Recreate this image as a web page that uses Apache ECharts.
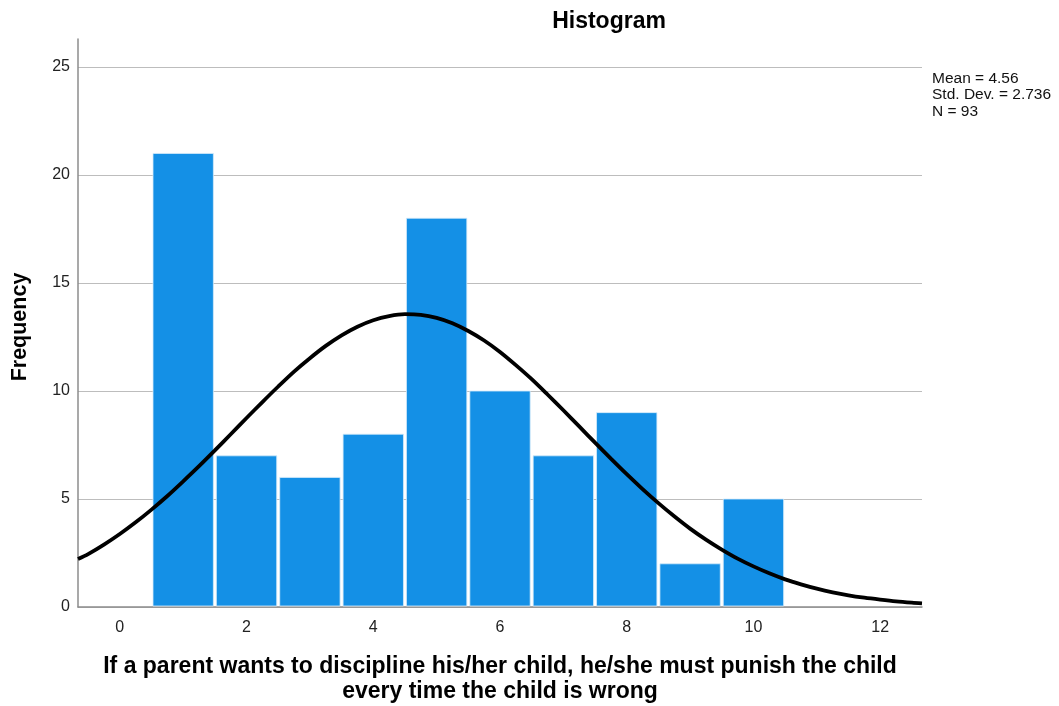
<!DOCTYPE html>
<html>
<head>
<meta charset="utf-8">
<script src="https://cdn.jsdelivr.net/npm/echarts@6/dist/echarts.min.js"></script>
<style>html,body{margin:0;padding:0;background:#fff;}#c{width:1059px;height:706px;}</style>
</head>
<body>
<div id="c"></div>
<script>
// Histogram bins (centre value) and frequencies
const binCenters = [1, 2, 3, 4, 5, 6, 7, 8, 9, 10];
const frequencies = [21, 7, 6, 8, 18, 10, 7, 9, 2, 5];
// Normal curve points (x, y)
const curveX = [-0.66, -0.5, -0.25, 0, 0.25, 0.5, 0.75, 1, 1.25, 1.5, 1.75, 2, 2.25, 2.5, 2.75, 3, 3.25, 3.5, 3.75, 4, 4.25, 4.5, 4.75, 5, 5.25, 5.5, 5.75, 6, 6.25, 6.5, 6.75, 7, 7.25, 7.5, 7.75, 8, 8.25, 8.5, 8.75, 9, 9.25, 9.5, 9.75, 10, 10.25, 10.5, 10.75, 11, 11.25, 11.5, 11.75, 12, 12.25, 12.5, 12.66];
const curveY = [2.22, 2.45, 2.89, 3.38, 3.92, 4.51, 5.14, 5.82, 6.52, 7.25, 8.00, 8.75, 9.49, 10.21, 10.90, 11.52, 12.09, 12.58, 12.98, 13.28, 13.47, 13.56, 13.53, 13.39, 13.14, 12.78, 12.34, 11.81, 11.20, 10.55, 9.84, 9.11, 8.36, 7.61, 6.87, 6.15, 5.46, 4.81, 4.20, 3.63, 3.12, 2.66, 2.24, 1.88, 1.56, 1.28, 1.05, 0.85, 0.68, 0.54, 0.43, 0.34, 0.26, 0.20, 0.17];
const xTickLabels = [0, 2, 4, 6, 8, 10, 12];
const yTickLabels = [0, 5, 10, 15, 20, 25];
const statsLines = ['Mean = 4.56', 'Std. Dev. = 2.736', 'N = 93'];
const titleText = 'Histogram';
const xName = 'If a parent wants to discipline his/her child, he/she must punish the child\nevery time the child is wrong';
const yName = 'Frequency';

const chart = echarts.init(document.getElementById('c'), null, {renderer: 'canvas'});
const font = '"Liberation Sans", Arial, sans-serif';

const option = {
  animation: false,
  backgroundColor: '#fff',
  grid: {left: 78, right: 137, top: 39, bottom: 99},
  xAxis: {
    type: 'value', min: -0.66, max: 12.66,
    axisLine: {show: true, onZero: false, lineStyle: {color: '#8c8c8c', width: 1.5}},
    axisTick: {show: false, customValues: xTickLabels},
    splitLine: {show: false},
    axisLabel: {customValues: xTickLabels, fontFamily: font, fontSize: 16, color: '#222', margin: 13}
  },
  yAxis: {
    type: 'value', min: 0, max: 26.3,
    axisLine: {show: true, onZero: false, lineStyle: {color: '#8c8c8c', width: 1.5}},
    axisTick: {show: false, customValues: yTickLabels},
    splitLine: {show: true, lineStyle: {color: '#bdbdbd', width: 1.2}},
    axisLabel: {customValues: yTickLabels, fontFamily: font, fontSize: 16, color: '#222', margin: 8}
  },
  graphic: [{
    type: 'text', x: 609, y: 10,
    style: {text: titleText, font: 'bold 23px ' + font, fill: '#000', textAlign: 'center', textVerticalAlign: 'top'}
  }, {
    type: 'text', x: 500, y: 654,
    style: {text: xName, font: 'bold 23px ' + font, fill: '#000', textAlign: 'center', textVerticalAlign: 'top', lineHeight: 25}
  }, {
    type: 'text', x: 20, y: 327, rotation: Math.PI / 2,
    style: {text: yName, font: 'bold 21.5px ' + font, fill: '#000', textAlign: 'center', textVerticalAlign: 'middle'}
  }, {
    type: 'text', x: 932, y: 70,
    style: {text: statsLines.join('\n'), font: '15.5px ' + font, fill: '#111', lineHeight: 16.5, textVerticalAlign: 'top'}
  }],
  series: [{
    type: 'custom',
    data: binCenters.map((c, i) => [c, frequencies[i]]),
    encode: {x: 0, y: 1},
    renderItem: function (params, api) {
      const c = api.value(0), v = api.value(1);
      const p0 = api.coord([c - 0.5, v]);
      const p1 = api.coord([c + 0.5, 0]);
      return {
        type: 'rect',
        shape: {x: p0[0] + 1.5, y: p0[1], width: p1[0] - p0[0] - 3, height: p1[1] - p0[1] - 1},
        style: {fill: '#1490e6', stroke: '#d6ebfa', lineWidth: 0.8}
      };
    },
    z: 2
  }, {
    type: 'line',
    data: curveX.map((x, i) => [x, curveY[i]]),
    smooth: 0.3, showSymbol: false, clip: true,
    lineStyle: {color: '#000', width: 3.8},
    z: 3
  }]
};
chart.setOption(option);
</script>
</body>
</html>
